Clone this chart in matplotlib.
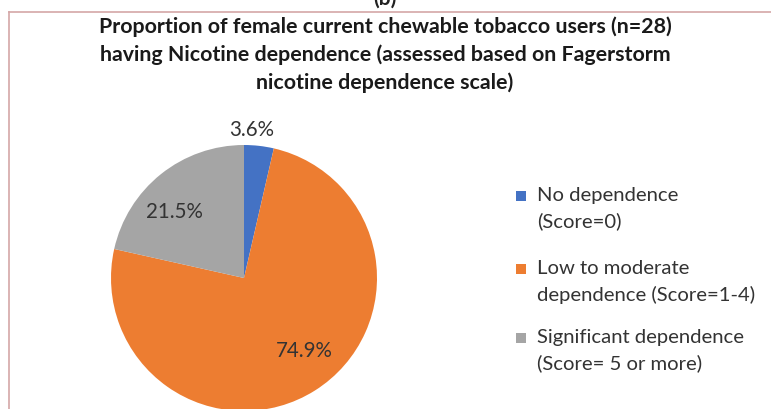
import matplotlib
matplotlib.use("Agg")
import matplotlib.pyplot as plt
from matplotlib.patches import Rectangle
from matplotlib.lines import Line2D

plt.rcParams['font.family'] = ['Lato', 'DejaVu Sans']

categories = ["No dependence\n(Score=0)",
              "Low to moderate\ndependence (Score=1-4)",
              "Significant dependence\n(Score= 5 or more)"]
shares = [3.6, 74.9, 21.5]
colors = ["#4472C4", "#ED7D31", "#A5A5A5"]
title = ("Proportion of female current chewable tobacco users (n=28)\n"
         "having Nicotine dependence (assessed based on Fagerstorm\n"
         "nicotine dependence scale)")

W, H = 771, 409
fig = plt.figure(figsize=(W / 100, H / 100), dpi=100)

def fx(px):
    return px / W

def fy(py):
    return 1 - py / H

# panel frame
fig.add_artist(Line2D([fx(9), 1], [fy(12), fy(12)], color="#D4A7A7", lw=1.2))
fig.add_artist(Line2D([fx(9), fx(9)], [fy(12), 0], color="#D4A7A7", lw=1.2))
fig.text(fx(385), fy(-1), "(b)", ha="center", va="center", fontsize=15,
         fontweight="bold", color="#222222")

fig.text(fx(385), fy(55), title, ha="center", va="center", fontsize=15.4,
         fontweight="bold", color="#1a1a1a", linespacing=1.45)

# pie
cx, cy, r = 244, 278, 133
ax = fig.add_axes([fx(cx - r), fy(cy + r), 2 * r / W, 2 * r / H])
ax.pie(shares, colors=colors, startangle=90, counterclock=False, radius=1,
       wedgeprops=dict(linewidth=0))
ax.set_xlim(-1, 1)
ax.set_ylim(-1, 1)
ax.set_aspect("auto")
ax.axis("off")

label_pos = [(252, 130), (304, 351), (174, 212)]
for v, (lx, ly) in zip(shares, label_pos):
    fig.text(fx(lx), fy(ly), f"{v}%", ha="center", va="center",
             fontsize=14.8, color="#333333")

# legend
legend_y = [209, 282, 351]
for lab, c, ly in zip(categories, colors, legend_y):
    fig.add_artist(Rectangle((fx(516), fy(ly - 13 + 5)), 10 / W, 10 / H,
                             facecolor=c, edgecolor="none",
                             transform=fig.transFigure))
    fig.text(fx(537), fy(ly), lab, ha="left", va="center", fontsize=14.6,
             color="#333333", linespacing=1.55)

fig.savefig("out.png", dpi=100)
